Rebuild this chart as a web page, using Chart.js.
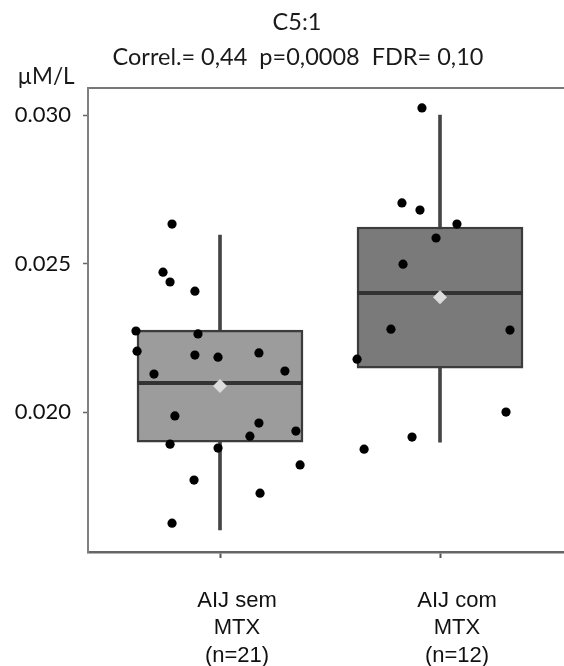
<!DOCTYPE html>
<html>
<head>
<meta charset="utf-8">
<script src="https://cdn.jsdelivr.net/npm/chart.js@4.4.1/dist/chart.umd.min.js"></script>
<style>
  html, body { margin: 0; padding: 0; background: #ffffff; overflow: hidden; }
  #wrap { position: relative; width: 564px; height: 666px; overflow: hidden; }
  canvas { display: block; }
</style>
</head>
<body>
<div id="wrap"><canvas id="c" width="564" height="666"></canvas></div>
<script>
// ---------- data ----------
const titleLines = ['C5:1', 'Correl.= 0,44  p=0,0008  FDR= 0,10'];
const unitLabel = 'µM/L';
const categories = [['AIJ sem', 'MTX', '(n=21)'], ['AIJ com', 'MTX', '(n=12)']];
const catPositions = [1, 2];
const yTicks = [0.020, 0.025, 0.030];

// box statistics per group
const boxMin    = [0.01603, 0.01899];
const boxQ1     = [0.01899, 0.02148];
const boxMedian = [0.02098, 0.02401];
const boxQ3     = [0.02276, 0.02623];
const boxMax    = [0.02596, 0.03000];
const boxMean   = [0.02088, 0.02387];

// individual points: values and horizontal jitter (in category units)
const g1Values = [0.02633, 0.02471, 0.02438, 0.02407, 0.02273, 0.02263, 0.02205, 0.02192, 0.02185, 0.02199, 0.02128,
                  0.02138, 0.01987, 0.01963, 0.01936, 0.01919, 0.01892, 0.01879, 0.01822, 0.01771, 0.01727, 0.01626];
const g1Jitter = [-0.218, -0.259, -0.227, -0.114, -0.382, -0.100, -0.377, -0.114, -0.009, 0.177, -0.300,
                  0.295, -0.205, 0.177, 0.345, 0.136, -0.227, -0.009, 0.364, -0.118, 0.182, -0.218];
const g2Values = [0.03024, 0.02704, 0.02680, 0.02633, 0.02586, 0.02498, 0.02279, 0.02276, 0.02178, 0.02000, 0.01916, 0.01875];
const g2Jitter = [-0.082, -0.173, -0.091, 0.077, -0.018, -0.168, -0.223, 0.318, -0.377, 0.300, -0.127, -0.345];

// ---------- styles ----------
const boxFill = ['#9c9c9c', '#7a7a7a'];
const boxHalf = 0.377;      // half box width in category units
const boxPx = 166;

const pts = [];
g1Values.forEach((v, i) => pts.push({ x: catPositions[0] + g1Jitter[i], y: v }));
g2Values.forEach((v, i) => pts.push({ x: catPositions[1] + g2Jitter[i], y: v }));

const datasets = [
  {
    type: 'bar', label: 'whisker', order: 4, grouped: false,
    data: catPositions.map((c, i) => ({ x: c, y: [boxMin[i], boxMax[i]] })),
    backgroundColor: '#454545', borderWidth: 0, barThickness: 3
  },
  {
    type: 'bar', label: 'box', order: 3, grouped: false,
    data: catPositions.map((c, i) => ({ x: c, y: [boxQ1[i], boxQ3[i]] })),
    backgroundColor: boxFill, borderColor: '#3c3c3c', borderWidth: 2.5, borderSkipped: false,
    barThickness: boxPx
  }
];
catPositions.forEach((c, i) => {
  datasets.push({
    type: 'scatter', label: 'median' + i, order: 2, showLine: true,
    data: [{ x: c - boxHalf, y: boxMedian[i] }, { x: c + boxHalf, y: boxMedian[i] }],
    borderColor: '#333333', borderWidth: 4, pointRadius: 0
  });
});
datasets.push({
  type: 'scatter', label: 'mean', order: 1,
  data: catPositions.map((c, i) => ({ x: c, y: boxMean[i] })),
  pointStyle: 'rectRot', pointRadius: 7, backgroundColor: '#dcdcdc', borderColor: '#dcdcdc', borderWidth: 0
});
datasets.push({
  type: 'scatter', label: 'points', order: 0,
  data: pts,
  pointRadius: 4.6, backgroundColor: '#000000', borderColor: '#000000', borderWidth: 0
});

const textPlugin = {
  id: 'texts',
  afterDraw(chart) {
    const ctx = chart.ctx;
    ctx.save();
    ctx.fillStyle = '#1a1a1a';
    ctx.textAlign = 'center';
    ctx.textBaseline = 'middle';
    ctx.font = '23.5px Lato';
    ctx.fillText(titleLines[0], 297, 22);
    ctx.fillText(titleLines[1], 298, 57);
    ctx.font = '22.5px Lato';
    ctx.fillText(unitLabel, 46, 77);
    ctx.restore();
  }
};

const chart = new Chart(document.getElementById('c'), {
  data: { datasets },
  plugins: [textPlugin],
  options: {
    responsive: false,
    animation: false,
    layout: { autoPadding: false, padding: { top: 88, left: 0, right: 0, bottom: 0 } },
    plugins: { legend: { display: false }, tooltip: { enabled: false }, title: { display: false } },
    scales: {
      x: {
        type: 'linear', position: 'bottom', min: 0.4, max: 2.5636, offset: false,
        afterBuildTicks: s => { s.ticks = catPositions.map(v => ({ value: v })); },
        afterFit: s => { s.height = 114; s.paddingLeft = 0; s.paddingRight = 0; },
        ticks: {
          callback: (v) => categories[catPositions.indexOf(v)],
          color: '#111111', font: { family: 'Liberation Sans', size: 22, lineHeight: 1.25 },
          padding: 29, labelOffset: 17, maxRotation: 0, autoSkip: false
        },
        grid: { offset: false, drawOnChartArea: false, drawTicks: true, tickLength: 6, color: '#555555', tickWidth: 2 },
        border: { display: true, color: '#666666', width: 2.5 }
      },
      x2: {
        type: 'linear', position: 'top', min: 0, max: 1, display: true, offset: false,
        afterFit: s => { s.height = 0; },
        ticks: { display: false },
        grid: { offset: false, drawOnChartArea: false, drawTicks: false },
        border: { display: true, color: '#777777', width: 2 }
      },
      y: {
        type: 'linear', position: 'left', min: 0.01529, max: 0.03091,
        afterBuildTicks: s => { s.ticks = yTicks.map(v => ({ value: v })); },
        afterFit: s => { s.width = 88; },
        ticks: {
          callback: v => v.toFixed(3),
          color: '#111111', font: { family: 'Lato', size: 22 }, padding: 12
        },
        grid: { drawOnChartArea: false, drawTicks: true, tickLength: 5, color: '#666666', tickWidth: 1.5 },
        border: { display: true, color: '#808080', width: 2 }
      }
    }
  }
});

if (document.fonts && document.fonts.ready) {
  document.fonts.ready.then(() => chart.update('none'));
}
</script>
</body>
</html>
